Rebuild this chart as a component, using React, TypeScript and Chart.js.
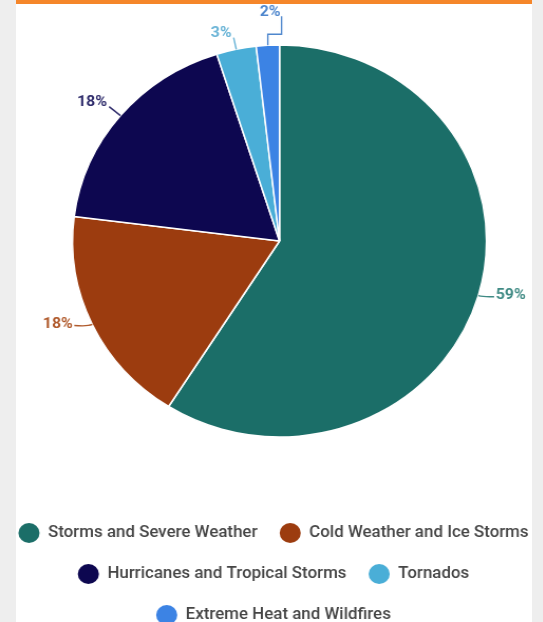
import React, { useEffect, useRef } from 'react';
import { Chart, registerables } from 'chart.js';

Chart.register(...registerables);

// ---- data ----
const categories = [
  'Storms and Severe Weather',
  'Cold Weather and Ice Storms',
  'Hurricanes and Tropical Storms',
  'Tornados',
  'Extreme Heat and Wildfires',
];
const shares = [59.0, 18.0, 18.1, 3.1, 1.8];

// ---- styles ----
const sliceColors = ['#1b6e68', '#9c3c0f', '#0d0750', '#4aaed7', '#3c83e4'];
const labelColors = ['#3f8a84', '#b05a2c', '#2e2b6b', '#68b3d6', '#4f87cd'];
const labelLayouts = [
  { kind: 'side', length: 15, run: 0, rise: 0 },
  { kind: 'side', length: 17, run: 0, rise: 0 },
  { kind: 'radial', length: 14, run: 0, rise: 0 },
  { kind: 'radial', length: 12, run: 0, rise: 0 },
  { kind: 'elbow', length: 11, run: 13, rise: 18 },
];

const STRETCH = 1.056;
const CANVAS_W = 540;
const CANVAS_H = 640;
const PIE_CX = 275.7;
const PIE_CY = 241;
const PIE_R = 196;

const pieAreaPlugin = {
  id: 'pieArea',
  afterLayout(chart: any) {
    chart.chartArea = {
      left: PIE_CX - PIE_R,
      top: PIE_CY - PIE_R,
      right: PIE_CX + PIE_R,
      bottom: PIE_CY + PIE_R,
      width: PIE_R * 2,
      height: PIE_R * 2,
    };
  },
};

const sliceLabelPlugin = {
  id: 'sliceLabels',
  afterDatasetsDraw(chart: any) {
    const { ctx } = chart;
    const meta = chart.getDatasetMeta(0);
    const values = chart.data.datasets[0].data as number[];
    const total = values.reduce((a, b) => a + b, 0);
    ctx.save();
    ctx.font = 'bold 15px Roboto, "Noto Sans", sans-serif';
    ctx.lineWidth = 1.4;
    meta.data.forEach((el: any, i: number) => {
      const { x, y, startAngle, endAngle, outerRadius } = el.getProps(
        ['x', 'y', 'startAngle', 'endAngle', 'outerRadius'],
        true
      );
      const mid = (startAngle + endAngle) / 2;
      const ux = Math.cos(mid);
      const uy = Math.sin(mid);
      const ex = x + ux * outerRadius;
      const ey = y + uy * outerRadius;
      const lay = labelLayouts[i];
      const text = Math.round((values[i] / total) * 100) + '%';
      ctx.strokeStyle = labelColors[i];
      ctx.fillStyle = labelColors[i];
      ctx.beginPath();
      ctx.moveTo(ex, ey);
      if (lay.kind === 'side') {
        const sign = ux >= 0 ? 1 : -1;
        const px = ex + sign * lay.length;
        const py = ey + 1;
        ctx.quadraticCurveTo(ex + ux * 5, ey + uy * 5, px, py);
        ctx.stroke();
        ctx.textAlign = sign > 0 ? 'left' : 'right';
        ctx.textBaseline = 'middle';
        ctx.fillText(text, px + sign * 1.5, ey);
      } else if (lay.kind === 'radial') {
        const px = ex + ux * lay.length;
        const py = ey + uy * lay.length;
        ctx.lineTo(px, py);
        ctx.stroke();
        const sign = ux >= 0 ? 1 : -1;
        ctx.textAlign = sign > 0 ? 'left' : 'right';
        ctx.textBaseline = 'alphabetic';
        ctx.fillText(text, px + sign * 2, py - 1);
      } else {
        const y1 = ey - lay.length;
        const x2 = ex + lay.run;
        const y3 = y1 - lay.rise;
        ctx.lineTo(ex, y1);
        ctx.lineTo(x2, y1);
        ctx.lineTo(x2, y3);
        ctx.stroke();
        ctx.textAlign = 'right';
        ctx.textBaseline = 'alphabetic';
        ctx.fillText(text, x2 - 1, y3);
      }
    });
    ctx.restore();
  },
};

export default function App() {
  const canvasRef = useRef<HTMLCanvasElement | null>(null);

  useEffect(() => {
    if (!canvasRef.current) return;
    const chart = new Chart(canvasRef.current, {
      type: 'pie',
      data: {
        labels: categories,
        datasets: [
          {
            data: shares,
            backgroundColor: sliceColors,
            borderColor: '#ffffff',
            borderWidth: 1.5,
            radius: PIE_R,
          } as any,
        ],
      },
      options: {
        responsive: false,
        animation: false,
        rotation: 0,
        layout: { padding: { top: 0, left: 0, right: 0, bottom: 5 } },
        plugins: {
          tooltip: { enabled: false },
          legend: {
            position: 'bottom',
            align: 'center',
            labels: {
              boxWidth: 20,
              boxHeight: 20,
              padding: 21,
              color: '#454545',
              font: { family: 'Roboto, "Noto Sans", sans-serif', size: 16, weight: 500 as any },
              generateLabels: () =>
                categories.map((label, i) => ({
                  text: label,
                  fillStyle: sliceColors[i],
                  strokeStyle: sliceColors[i],
                  lineWidth: 0,
                  borderRadius: 10,
                  fontColor: '#454545',
                  hidden: false,
                  index: i,
                })) as any,
            },
          },
        },
      },
      plugins: [pieAreaPlugin, sliceLabelPlugin],
    });
    return () => chart.destroy();
  }, []);

  return (
    <div
      style={{
        position: 'fixed',
        left: 0,
        top: 0,
        width: '100%',
        height: '100%',
        background: '#eeeeee',
        overflow: 'hidden',
      }}
    >
      <div
        style={{
          position: 'absolute',
          left: 16,
          top: 0,
          width: 516,
          height: '100%',
          background: '#ffffff',
          borderTop: '4px solid #f5862a',
          boxSizing: 'border-box',
        }}
      />
      <div
        style={{
          position: 'absolute',
          left: 0,
          top: 0,
          width: CANVAS_W,
          height: CANVAS_H,
          transform: `scaleX(${STRETCH})`,
          transformOrigin: '0 0',
        }}
      >
        <canvas
          ref={canvasRef}
          width={CANVAS_W}
          height={CANVAS_H}
          style={{ position: 'absolute', left: -10.53, top: 0, width: CANVAS_W, height: CANVAS_H }}
        />
      </div>
    </div>
  );
}
